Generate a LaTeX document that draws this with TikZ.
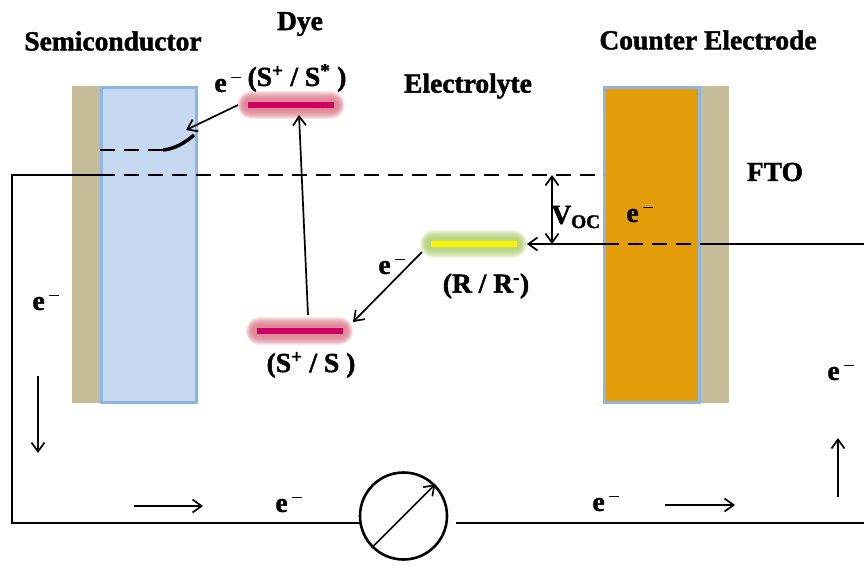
\documentclass[tikz,border=0pt]{standalone}
\usepackage{fontspec}
\setmainfont{Liberation Serif}[BoldFeatures={FakeBold=1.6}]
\usepackage{tikz}
\usetikzlibrary{arrows.meta,positioning,calc}

\definecolor{ftotan}{HTML}{C4BD97}
\definecolor{semiblue}{HTML}{C6D9F1}
\definecolor{edgeblue}{HTML}{8DB4E3}
\definecolor{cathode}{HTML}{E39C0A}
\definecolor{dyepink}{HTML}{CC0066}
\definecolor{dyeglow}{HTML}{D9707F}
\definecolor{redoxglow}{HTML}{A9CC6A}

\newcommand{\elec}{e\,\textsuperscript{\textmd{--}}}
% bar with a soft halo
\newcommand{\levelbar}[5]{
	\foreach \halo in {14,13,12,11,10,9,8,7,6}
		\fill [#5,opacity=0.17,rounded corners=\halo pt] ($(#3)+(-43-\halo*0.75,-\halo)$) rectangle ($(#3)+(43+\halo*0.75,\halo)$);
	\node [levelbar,fill=#4] (#1) at (#3) {};
	\coordinate (#2) at (#1.south);
}

\begin{document}
\begin{tikzpicture}
			[x=1pt,y=-1pt,>={Straight Barb[length=9pt,width=13pt]},
			ftolayer/.style={rectangle,fill=ftotan,inner sep=0pt,minimum width=29pt,minimum height=317pt},
			oxide/.style={rectangle,draw=edgeblue,line width=3pt,inner sep=0pt,minimum width=95pt,minimum height=315pt},
			levelbar/.style={rectangle,inner sep=0pt,minimum width=86pt,minimum height=6pt},
			caption/.style={font=\fontsize{27.5}{29}\selectfont\bfseries,inner sep=0pt},
			wire/.style={line width=1.7pt},
			level/.style={line width=2.7pt,dash pattern=on 15pt off 9pt},
			flow/.style={->,line width=1.7pt}]

			\useasboundingbox (0,0) rectangle (864,565);

			% cells
			\node [ftolayer](ftoL) at (86.5,244.5)            {};
			\node [oxide,fill=semiblue](semi) at (148.5,244.5) {};
			\node [ftolayer](ftoR) at (714,244.5)             {};
			\node [oxide,fill=cathode](counter) at (652,244.5) {};

			% energy levels
			\levelbar{dyeup}{dyeupS}{291,105}{dyepink}{dyeglow}
			\levelbar{dyelow}{dyelowS}{299.5,331}{dyepink}{dyeglow}
			\levelbar{redox}{redoxS}{473.5,244}{yellow}{redoxglow}

			% captions
			\node [caption](semilabel) at (113,41)            {Semiconductor};
			\node [caption](dyelabel) at (300,24)             {Dye};
			\node [caption](counterlabel) at (708,40)         {Counter Electrode};
			\node [caption](elytelabel) at (468,86)           {Electrolyte};
			\node [caption](ftolabel) at (775,172)            {FTO};
			\node [caption](dyeuplabel) at (297,78)           {(S\textsuperscript{+} / S\textsuperscript{*} )};
			\node [caption](dyelowlabel) at (311,365)         {(S\textsuperscript{+} / S )};
			\node [caption](redoxlabel) at (486,286)          {(R / R\textsuperscript{-})};
			\node [caption](voc) at (576,217)                 {V\textsubscript{OC}};
			\node [caption](e1) at (228,85)                   {\elec};
			\node [caption](e2) at (392,267)                  {\elec};
			\node [caption](e3) at (640,215)                  {\elec};
			\node [caption](e4) at (46,303)                   {\elec};
			\node [caption](e5) at (841,373)                  {\elec};
			\node [caption](e6) at (289,505)                  {\elec};
			\node [caption](e7) at (606,504)                  {\elec};

			% meter
			\node [circle,draw,line width=2.6pt,inner sep=0pt,minimum size=87pt](meter) at (403.5,516) {};
			\draw [flow] (meter.225) -- (meter.45);

			\coordinate (semiIn) at (100,175);
			\coordinate (semiOut) at (604,175);
			\coordinate (cornerT) at (12,175);
			\coordinate (cornerB) at (12,523);
			\coordinate (meterW) at (360,523);
			\coordinate (meterE) at (456,523);
			\coordinate (wireE) at (864,523);
			\coordinate (feedE) at (864,244);
			\coordinate (feedM) at (700,244);
			\coordinate (feedL) at (604,244);
			\coordinate (feedT) at (527,244);
			\coordinate (vocT) at (552,175);
			\coordinate (vocB) at (552,244);

			% circuit
			\draw [wire] (semiIn) -- (cornerT) -- (cornerB) -- (meterW);
			\draw [wire] (meterE) -- (wireE);
			\draw [wire] (feedE) -- (feedM);
			\draw [flow] (feedL) -- (feedT);
			\draw [level] (semiIn) -- (semiOut);
			\draw [level] (feedL) -- (feedM);
			\draw [<->,line width=1.7pt] (vocT) -- (vocB);

			% conduction band edge
			\coordinate (bandL) at (100,150);
			\coordinate (bandM) at (163,150);
			\coordinate (bandR) at (194,135);
			\draw [level] (bandL) -- (bandM);
			\draw [line width=3.5pt] (bandM) .. controls (175,149) and (186,142) .. (bandR);

			% transfers
			\coordinate (injS) at (238,105);
			\coordinate (injE) at (186,130);
			\coordinate (excS) at (308,315);
			\coordinate (excE) at (299,115);
			\coordinate (regS) at (422,252);
			\coordinate (regE) at (353,322);
			\draw [flow] (injS) -- (injE);
			\draw [flow] (excS) -- (excE);
			\draw [flow] (regS) -- (regE);

			% current direction
			\coordinate (d1s) at (38,376);
			\coordinate (d1e) at (38,453);
			\coordinate (d2s) at (134,506);
			\coordinate (d2e) at (203,506);
			\coordinate (d3s) at (665,505);
			\coordinate (d3e) at (735,505);
			\coordinate (d4s) at (838,497);
			\coordinate (d4e) at (838,438);
			\draw [flow] (d1s) -- (d1e);
			\draw [flow] (d2s) -- (d2e);
			\draw [flow] (d3s) -- (d3e);
			\draw [flow] (d4s) -- (d4e);
			\end{tikzpicture}
\end{document}
